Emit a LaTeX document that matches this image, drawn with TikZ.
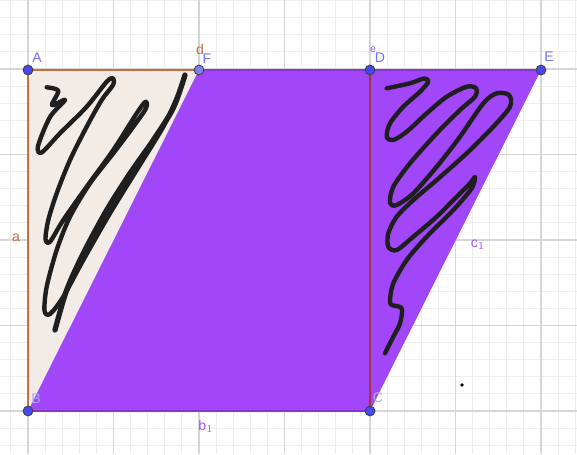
\documentclass[tikz,border=0pt]{standalone}
\usepackage{fontspec}
\setmainfont{Liberation Sans}
\definecolor{gminor}{RGB}{238,238,238}
\definecolor{gmajor}{RGB}{214,214,214}
\definecolor{purp}{RGB}{161,70,248}
\definecolor{purpline}{RGB}{140,50,210}
\definecolor{beige}{RGB}{243,235,229}
\definecolor{orng}{RGB}{196,112,70}
\definecolor{redbr}{RGB}{165,50,60}
\definecolor{ptblue}{RGB}{72,72,240}
\definecolor{ptlight}{RGB}{125,125,250}
\definecolor{lblblue}{RGB}{115,115,252}
\definecolor{lblpale}{RGB}{170,170,255}
\definecolor{lblpurp}{RGB}{170,80,245}
\begin{document}
\begin{tikzpicture}[x=0.02cm,y=-0.02cm,
  minor/.style={draw=gminor,line width=0.6pt},
  major/.style={draw=gmajor,line width=0.9pt},
  pt/.style={circle,draw=black!75,line width=0.5pt,fill=ptblue,inner sep=0pt,minimum size=5.6pt},
  ptl/.style={pt,fill=ptlight},
  lbl/.style={font=\fontsize{8}{9}\selectfont,text=lblblue,inner sep=0pt},
  olbl/.style={font=\fontsize{8}{9}\selectfont,text=orng,inner sep=0pt},
  plbl/.style={font=\fontsize{8}{9}\selectfont,text=lblpurp,inner sep=0pt},
  scrib/.style={draw=black!88,line width=2.5pt,line cap=round,line join=round}]
\useasboundingbox (0,0) rectangle (577,454);
\fill[white] (0,0) rectangle (577,454);
% grid
\foreach \i in {-1,...,32} \draw[minor] ({28+17.1*\i},0) -- ({28+17.1*\i},454);
\foreach \j in {-2,...,24} \draw[minor] (0,{411-17.1*\j}) -- (577,{411-17.1*\j});
\foreach \i in {0,...,6} \draw[major] ({28+85.5*\i},0) -- ({28+85.5*\i},454);
\foreach \j in {0,...,4} \draw[major] (0,{411-85.5*\j}) -- (577,{411-85.5*\j});
% coordinates
\coordinate (pA) at (28,70);
\coordinate (pF) at (199,70);
\coordinate (pD) at (370,70);
\coordinate (pE) at (541,70);
\coordinate (pB) at (28,411);
\coordinate (pC) at (370,411);
% shapes
\fill[beige] (pA) -- (pF) -- (pB) -- cycle;
\fill[purp] (pB) -- (pC) -- (pE) -- (pF) -- cycle;
\draw[purpline,line width=1.2pt] (pB) -- (pC);
\draw[purpline,line width=1pt] (pF) -- (pE);
\draw[orng,line width=1.3pt] (pA) -- (pF);
\draw[orng,line width=1.3pt] (pA) -- (pB);
\draw[redbr,line width=1.1pt] (pD) -- (pC);
% hidden label fragment
\node[olbl,font=\fontsize{6}{7}\selectfont] (lf) at (389,239) {f};
% scribbles
\draw[scrib] plot[smooth,tension=0.5] coordinates {(46.7,87.3) (58.3,90.7) (52,105) (65,100) (50,117) (38,146) (41.7,152.5) (60,133.3) (86.7,106.7) (106.7,81.7) (113,78.3) (113,85) (101.7,100) (86.7,126.7) (70,160) (56.7,193.3) (48.3,220) (45.5,239) (50,241.7) (63.3,220) (86.7,186.7) (113.3,150) (136.7,113.3) (145.5,101.7) (146,108.3) (133.3,126.7) (113.3,153.3) (90,183.3) (70,216.7) (56.7,250) (46.7,286.7) (44.5,310.5) (50,314) (63.3,296.7) (83.3,260) (110,213.3) (136.7,170) (163.3,126.7) (178,95) (185,75)};
\draw[scrib,line width=3pt] plot[smooth,tension=0.5] coordinates {(185,75) (173.3,108) (153.3,140) (130,173.3) (106.7,210) (83.3,253.3) (66.7,290) (55,330)};
\draw[scrib] plot[smooth,tension=0.5] coordinates {(386.7,88.3) (410,83.3) (424,78.5) (428.3,81.7) (420,91.7) (403.3,106.7) (390,123.3) (386.7,136.7) (393.3,140) (406.7,131.7) (426.7,113.3) (446.7,96.7) (466.7,86.7) (476,88.3) (475,96.7) (460,110) (436.7,133.3) (410,163.3) (393.3,186.7) (390,203) (396.7,205) (413.3,193.3) (436.7,166.7) (460,136.7) (483.3,103.3) (496.7,93.3) (509,95) (510,106.7) (493.3,126.7) (466.7,153.3) (436.7,180) (413.3,200) (396.7,216.7) (388.3,233.3) (388.3,246.7) (396.7,250) (413.3,236.7) (436.7,216.7) (456.7,196.7) (470,183.3) (475,177) (471.7,188.3) (453.3,210) (426.7,236.7) (406.7,260) (393.3,283.3) (390,300) (391.7,305) (401.7,308.3) (400,323.3) (393.3,336.7) (385,353.3)};
% points
\node[pt] (A) at (pA) {};
\node[ptl] (F) at (pF) {};
\node[pt] (D) at (pD) {};
\node[pt] (E) at (pE) {};
\node[pt] (B) at (pB) {};
\node[pt] (C) at (pC) {};
\coordinate (dot) at (462,385);
\fill[black] (dot) circle (1.8);
% labels
\node[lbl] (lA) at (37,58) {A};
\node[olbl] (ld) at (200,49) {d};
\node[lbl] (lF) at (207,59) {F};
\node[plbl,font=\fontsize{6}{7}\selectfont] (le) at (373,50) {e};
\node[lbl] (lD) at (380,58) {D};
\node[lbl] (lE) at (549,57) {E};
\node[lbl,text=lblpale] (lB) at (36,399) {B};
\node[lbl,text=lblpale] (lC) at (378,398) {C};
\node[olbl] (la) at (16,238) {a};
\node[plbl] (lb) at (206,426) {b$_1$};
\node[plbl] (lc) at (478,245) {c$_1$};
\end{tikzpicture}
\end{document}
